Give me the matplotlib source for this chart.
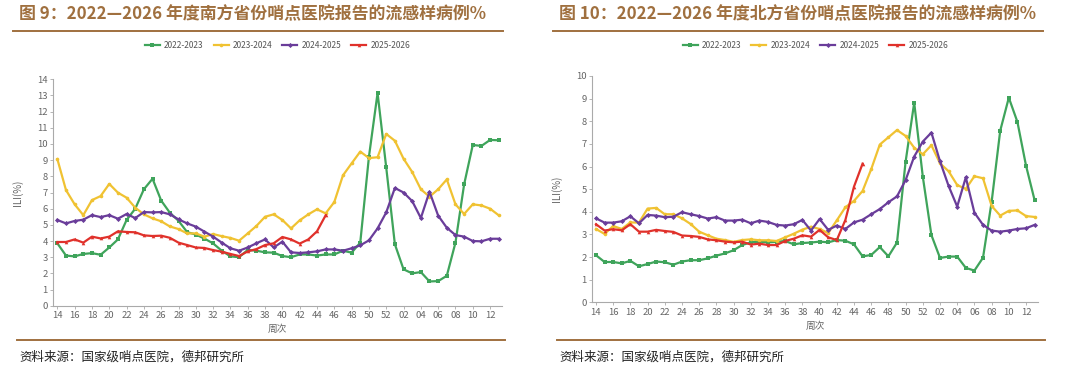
import numpy as np
import matplotlib as mplt
mplt.use("Agg")
import matplotlib.pyplot as plt
from matplotlib.lines import Line2D

plt.rcParams['font.family'] = ['Noto Sans CJK SC', 'DejaVu Sans']

# week labels: 14..52 then 01..13
weeks = [f"{w:02d}" for w in list(range(14, 53)) + list(range(1, 14))]
seasons = ["2022-2023", "2023-2024", "2024-2025", "2025-2026"]

# south (figure 9)
south_2022 = [3.86, 3.1, 3.05, 3.2, 3.25, 3.15, 3.6, 4.1, 5.3, 6.0, 7.2, 7.85, 6.5, 5.75, 5.25,
              4.55, 4.4, 4.15, 3.85, 3.4, 3.05, 3.0, 3.45, 3.4, 3.3,
              3.28, 3.07, 3.0, 3.17, 3.17, 3.1, 3.17, 3.17, 3.4, 3.28, 3.9, 9.2, 13.15, 8.55,
              3.8, 2.25, 2.0, 2.08, 1.5, 1.52, 1.85, 3.9, 7.5, 9.94, 9.88, 10.25, 10.23]
south_2023 = [9.07, 7.15, 6.27, 5.6, 6.53, 6.78, 7.53, 6.99, 6.68, 6.06, 5.65, 5.4, 5.22, 4.9,
              4.74, 4.47, 4.47, 4.27, 4.43, 4.3, 4.19, 4.02, 4.47, 4.93, 5.5,
              5.65, 5.3, 4.78, 5.28, 5.65, 5.96, 5.71, 6.41, 8.06, 8.8, 9.53, 9.13, 9.18, 10.62,
              10.2, 9.09, 8.27, 7.2, 6.74, 7.2, 7.81, 6.27, 5.67, 6.27, 6.2, 6.0, 5.59]
south_2024 = [5.3, 5.09, 5.24, 5.32, 5.6, 5.48, 5.6, 5.38, 5.67, 5.42, 5.79, 5.77, 5.79, 5.65,
              5.34, 5.09, 4.89, 4.58, 4.27, 3.9, 3.55, 3.4, 3.6, 3.86, 4.1,
              3.6, 3.96, 3.3, 3.26, 3.3, 3.36, 3.48, 3.48, 3.4, 3.55, 3.73, 4.04, 4.78, 5.77,
              7.28, 7.0, 6.47, 5.42, 7.05, 5.57, 4.82, 4.37, 4.27, 4.0, 3.98, 4.14, 4.14]
south_2025 = [3.94, 3.94, 4.1, 3.9, 4.27, 4.16, 4.27, 4.6, 4.56, 4.54, 4.35, 4.31, 4.33, 4.2,
              3.9, 3.75, 3.6, 3.57, 3.44, 3.34, 3.2, 3.07, 3.36, 3.5, 3.75,
              3.86, 4.25, 4.1, 3.84, 4.1, 4.6, 5.59]

# north (figure 10)
north_2022 = [2.08, 1.78, 1.78, 1.72, 1.83, 1.59, 1.69, 1.8, 1.77, 1.66, 1.8, 1.86, 1.86, 1.94,
              2.06, 2.16, 2.3, 2.53, 2.65, 2.68, 2.65, 2.67, 2.71, 2.56, 2.62,
              2.64, 2.68, 2.65, 2.75, 2.72, 2.56, 2.03, 2.09, 2.44, 2.03, 2.64, 6.21, 8.82, 5.55,
              2.97, 1.96, 2.02, 2.02, 1.52, 1.4, 1.97, 4.43, 7.58, 9.04, 7.97, 6.04, 4.51]
north_2023 = [3.24, 3.02, 3.37, 3.24, 3.53, 3.52, 4.14, 4.17, 3.89, 3.89, 3.71, 3.46, 3.12, 2.96,
              2.81, 2.75, 2.67, 2.75, 2.78, 2.74, 2.74, 2.71, 2.87, 3.03, 3.21,
              3.34, 3.24, 3.06, 3.62, 4.2, 4.48, 4.92, 5.88, 6.97, 7.29, 7.61, 7.35, 6.83, 6.54,
              6.94, 6.14, 5.79, 5.18, 5.01, 5.57, 5.48, 4.26, 3.83, 4.04, 4.06, 3.81, 3.77]
north_2024 = [3.71, 3.52, 3.52, 3.58, 3.8, 3.49, 3.86, 3.83, 3.76, 3.78, 3.98, 3.89, 3.81, 3.7,
              3.76, 3.61, 3.61, 3.65, 3.49, 3.61, 3.55, 3.42, 3.39, 3.45, 3.64,
              3.17, 3.68, 3.2, 3.39, 3.24, 3.53, 3.65, 3.89, 4.12, 4.42, 4.68, 5.4, 6.44, 7.1,
              7.5, 6.23, 5.14, 4.23, 5.52, 3.96, 3.42, 3.17, 3.12, 3.17, 3.24, 3.27, 3.42]
north_2025 = [3.45, 3.17, 3.23, 3.18, 3.45, 3.12, 3.12, 3.2, 3.15, 3.11, 2.95, 2.93, 2.89, 2.78,
              2.74, 2.68, 2.65, 2.68, 2.55, 2.59, 2.53, 2.53, 2.71, 2.81, 2.96,
              2.9, 3.2, 2.87, 2.75, 3.64, 5.11, 6.13]

colors = ["#3fa45b", "#f0c232", "#6a3d9a", "#e0312b"]
markers = ["s", "o", "D", "^"]
brown = "#a0703f"

fig = plt.figure(figsize=(10.8, 3.75), dpi=100)

panels = [
    dict(rect=[0.0494, 0.1848, 0.4152, 0.6037], ymax=14, xlim=(-0.46, 51.35), x0=0.0,
         title="图 9：2022—2026 年度南方省份哨点医院报告的流感样病例%",
         series=[south_2022, south_2023, south_2024, south_2025]),
    dict(rect=[0.5484, 0.1939, 0.4130, 0.6035], ymax=10, xlim=(-0.43, 51.43), x0=0.5,
         title="图 10：2022—2026 年度北方省份哨点医院报告的流感样病例%",
         series=[north_2022, north_2023, north_2024, north_2025]),
]

for p in panels:
    ax = fig.add_axes(p["rect"])
    for vals, c, m, lab in zip(p["series"], colors, markers, seasons):
        x = np.arange(len(vals))
        ax.plot(x, vals, color=c, lw=1.6, marker=m, ms=2.6, mew=0, label=lab)
    ax.set_xlim(*p["xlim"])
    ax.set_ylim(0, p["ymax"])
    ax.set_yticks(range(0, p["ymax"] + 1))
    ax.set_xticks(range(0, len(weeks), 2))
    ax.set_xticklabels(weeks[::2])
    for s in ["top", "right"]:
        ax.spines[s].set_visible(False)
    for s in ["left", "bottom"]:
        ax.spines[s].set_color("#aaaaaa")
        ax.spines[s].set_linewidth(0.8)
    ax.tick_params(axis="both", labelsize=6.8, colors="#aaaaaa", labelcolor="#666666",
                   length=2, width=0.6, pad=2)
    ax.set_ylabel("ILI(%)", fontsize=7, color="#666666", labelpad=10)
    ax.set_xlabel("周次", fontsize=7, color="#666666", labelpad=3)

    x0 = p["x0"]
    fig.text(x0 + 0.018, 0.962, p["title"], fontsize=12.2, fontweight="bold", color=brown,
             va="center", ha="left")
    fig.add_artist(Line2D([x0 + 0.012, x0 + 0.466], [0.918, 0.918], color=brown, lw=1.4))
    fig.add_artist(Line2D([x0 + 0.016, x0 + 0.468], [0.094, 0.094], color=brown, lw=1.4))
    fig.text(x0 + 0.018, 0.048, "资料来源：国家级哨点医院，德邦研究所", fontsize=9,
             color="#222222", va="center", ha="left")
    ax.legend(loc="center", bbox_to_anchor=(0.5, (0.88 - p["rect"][1]) / p["rect"][3]),
              ncol=4, frameon=False, fontsize=6, handlelength=1.8, columnspacing=1.2,
              handletextpad=0.5, labelcolor="#555555")

fig.savefig("out.png", dpi=100)
